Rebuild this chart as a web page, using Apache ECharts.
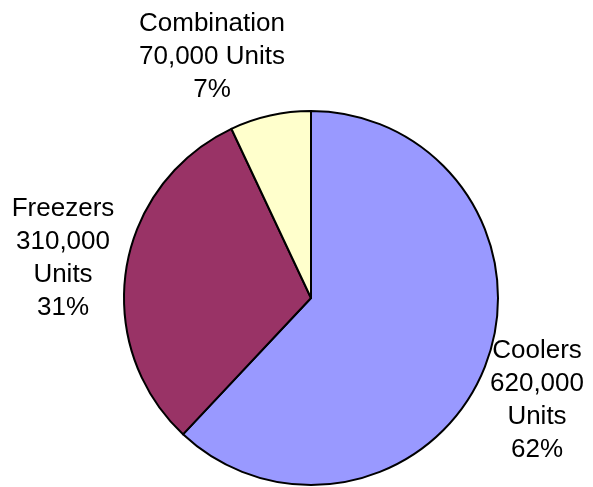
<!DOCTYPE html>
<html>
<head>
<meta charset="utf-8">
<script src="https://cdn.jsdelivr.net/npm/echarts@6/dist/echarts.min.js"></script>
<style>
html,body{margin:0;padding:0;background:#fff;}
#main{width:593px;height:487px;}
</style>
</head>
<body>
<div id="main"></div>
<script>
var categories = ['Coolers', 'Freezers', 'Combination'];
var units = [620000, 310000, 70000];
var percents = [62, 31, 7];
var colors = ['#9999FF', '#993366', '#FFFFCC'];

var labelPos = {
  'Coolers': [537, 400],
  'Freezers': [63, 258],
  'Combination': [212, 57]
};

function fmt(n) { return n.toLocaleString('en-US'); }

var chart = echarts.init(document.getElementById('main'), null, {renderer: 'canvas'});
chart.setOption({
  backgroundColor: '#ffffff',
  animation: false,
  series: [{
    type: 'pie',
    center: [311, 298],
    radius: [0, 187],
    startAngle: 90,
    clockwise: true,
    data: categories.map(function (c, i) {
      var text;
      if (c === 'Combination') {
        text = c + '\n' + fmt(units[i]) + ' Units\n' + percents[i] + '%';
      } else {
        text = c + '\n' + fmt(units[i]) + '\nUnits\n' + percents[i] + '%';
      }
      return {
        name: c,
        value: units[i],
        itemStyle: {color: colors[i]},
        label: {formatter: text}
      };
    }),
    itemStyle: {borderColor: '#000', borderWidth: 2},
    emphasis: {disabled: true},
    label: {
      show: true,
      position: 'inside',
      overflow: 'none',
      fontFamily: 'Liberation Sans, Arial, sans-serif',
      fontSize: 26,
      lineHeight: 33,
      color: '#000',
      align: 'center'
    },
    labelLine: {show: false},
    labelLayout: function (params) {
      var p = labelPos[categories[params.dataIndex]];
      return {x: p[0], y: p[1], align: 'center', verticalAlign: 'middle', hideOverlap: false};
    }
  }]
});
</script>
</body>
</html>
